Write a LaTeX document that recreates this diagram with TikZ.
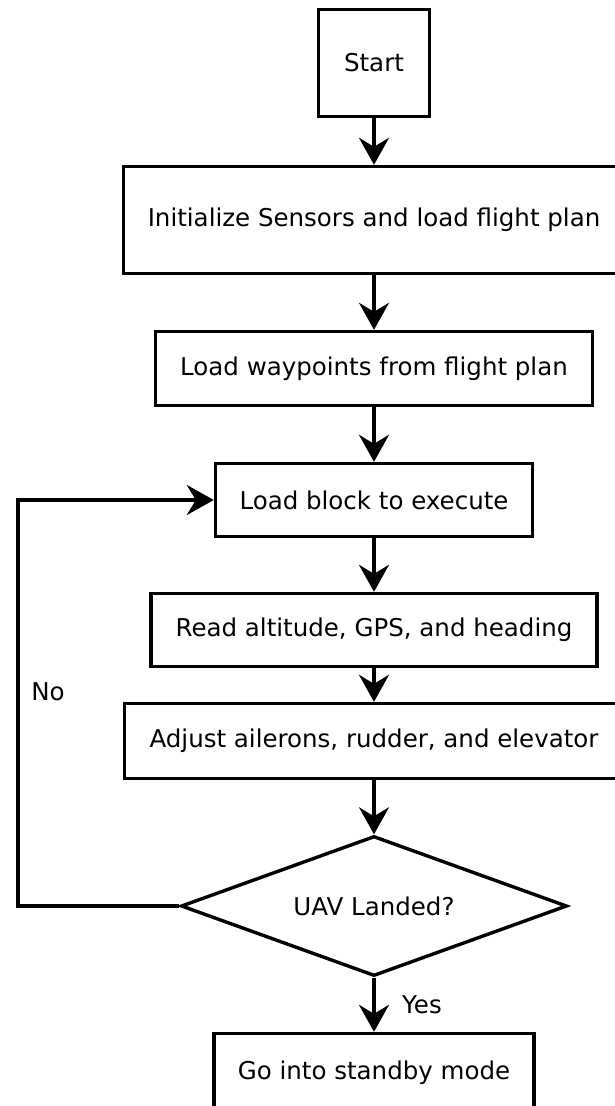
\documentclass[tikz,border=0pt]{standalone}
\usepackage{fontspec}
\setmainfont{DejaVu Sans}
\usetikzlibrary{shapes.geometric,arrows.meta}

\begin{document}
\begin{tikzpicture}[x=1pt, y=-1pt,
        every node/.style={font=\fontsize{24.5}{29}\selectfont},
        stepbox/.style={draw, line width=3.4pt, fill=white, inner sep=0pt},
        decbox/.style={draw, diamond, aspect=2.76, line width=3.4pt, fill=white, inner sep=0pt},
        flow/.style={line width=3.4pt, -{Stealth[length=27pt, width=30pt, inset=9pt]}}]
        \useasboundingbox (0,0) rectangle (615,1106);                    %
        \node [stepbox, minimum width=111pt, minimum height=107pt] (start)   at (374,63)    {Start};
        \node [stepbox, minimum width=501pt, minimum height=107pt] (init)    at (374,220)   {Initialize Sensors and load flight plan};
        \node [stepbox, minimum width=437pt, minimum height=74pt]  (wpts)    at (374,368.5) {Load waypoints from flight plan};
        \node [stepbox, minimum width=317pt, minimum height=73pt]  (block)   at (374,500)   {Load block to execute};
        \node [stepbox, minimum width=446pt, minimum height=73pt]  (sense)   at (374,630)   {Read altitude, GPS, and heading};
        \node [stepbox, minimum width=499pt, minimum height=75pt]  (adjust)  at (374,741)   {Adjust ailerons, rudder, and elevator};
        \node [decbox,  minimum width=386pt, minimum height=140pt] (landed)  at (374,906)   {UAV Landed?};
        \node [stepbox, minimum width=320pt, minimum height=79pt]  (standby) at (374,1073)  {Go into standby mode};
        \draw [flow] (start)  -- (init);                                 %
        \draw [flow] (init)   -- (wpts);                                 %
        \draw [flow] (wpts)   -- (block);                                %
        \draw [flow] (block)  -- (sense);                                %
        \draw [flow] (sense)  -- (adjust);                               %
        \draw [flow] (adjust) -- (landed);                               %
        \draw [flow] (landed) -- (standby);                              %Yes
        \node (yeslabel) at (422,1005) {Yes};                            %
        \coordinate (loopcorner) at (18,906);                            %No
        \draw [flow] (landed.west) -- (loopcorner) |- (block.west);      %
        \node (nolabel) at (48,692) {No};                                %
\end{tikzpicture}
\end{document}
